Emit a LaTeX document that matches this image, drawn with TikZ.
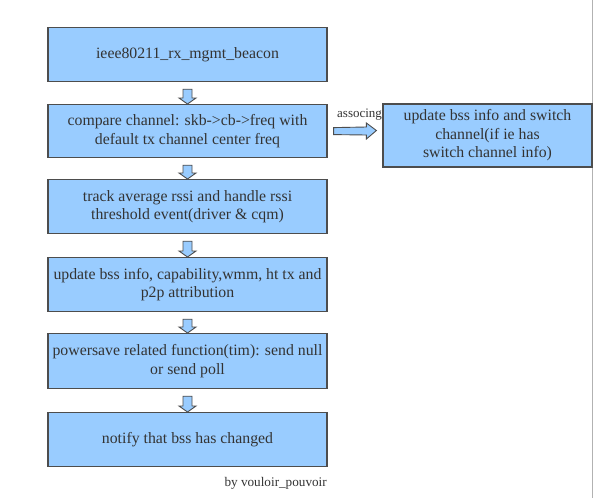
\documentclass[tikz,border=0pt]{standalone}
\usepackage{fontspec}
\setmainfont{Liberation Serif}
\usetikzlibrary{calc}
\definecolor{boxfill}{HTML}{99CCFF}
\definecolor{boxline}{HTML}{4D4D4D}
\definecolor{txt}{HTML}{333333}
\tikzset{
  stepbox/.style={draw=boxline, line width=1.2pt, fill=boxfill, text=txt,
    minimum width=279pt, align=center, inner sep=0pt,
    font=\fontsize{15.8}{18.5}\selectfont, anchor=north},
  sidebox/.style={draw=boxline, line width=1.2pt, fill=boxfill, text=txt,
    minimum width=209pt, minimum height=63pt, align=center, inner sep=0pt,
    font=\fontsize{15.8}{18.5}\selectfont},
  blockarr/.style={draw=boxline, line width=0.9pt, fill=boxfill, line join=miter},
}
\newcommand\blockdown[2]{%
  \draw[blockarr] ($(#1.south)+(-4.5,7)$) -- ($(#2.north)+(-4.5,-6)$) -- ($(#2.north)+(-8.5,-6)$)
    -- (#2.north) -- ($(#2.north)+(8.5,-6)$) -- ($(#2.north)+(4.5,-6)$) -- ($(#1.south)+(4.5,7)$) -- cycle;}
\begin{document}
\begin{tikzpicture}[x=1pt,y=-1pt]
\useasboundingbox (0,0) rectangle (596,498);
\fill[white] (0,0) rectangle (596,498);
\draw[gray!60, line width=1pt] (592.5,0) -- (592.5,498);
\node[stepbox, minimum height=54pt] (b1) at (187.5,27) {ieee80211\_rx\_mgmt\_beacon};
\node[stepbox, minimum height=53pt] (b2) at (187.5,104) {compare channel: skb->cb->freq with\\default tx channel center freq};
\node[stepbox, minimum height=54pt] (b3) at (187.5,179) {track average rssi and handle rssi\\threshold event(driver \& cqm)};
\node[stepbox, minimum height=54pt] (b4) at (187.5,257) {update bss info, capability,wmm, ht tx and\\p2p attribution};
\node[stepbox, minimum height=55pt] (b5) at (187.5,333) {powersave related function(tim): send null\\or send poll};
\node[stepbox, minimum height=54pt] (b6) at (187.5,412) {notify that bss has changed};
\node[sidebox] (side) at (487.5,135.5) {update bss info and switch\\channel(if ie has\\switch channel info)};
\blockdown{b1}{b2}
\blockdown{b2}{b3}
\blockdown{b3}{b4}
\blockdown{b4}{b5}
\blockdown{b5}{b6}
\draw[blockarr] ($(b2.east)+(6,-3.5)$) -- ($(side.west)+(-16,-8.5)$) -- ($(side.west)+(-16,-12.5)$)
  -- ($(side.west)+(-6,-5)$) -- ($(side.west)+(-16,3.5)$) -- ($(side.west)+(-16,-0.5)$)
  -- ($(b2.east)+(6,3.5)$) -- cycle;
\node[text=txt, font=\fontsize{13}{15}\selectfont, anchor=base west, inner sep=0pt] (lab) at (337,117) {associng};
\node[text=txt, font=\fontsize{13.2}{15}\selectfont, anchor=base east, inner sep=0pt] (sig) at (327,486) {by vouloir\_pouvoir};
\end{tikzpicture}
\end{document}
